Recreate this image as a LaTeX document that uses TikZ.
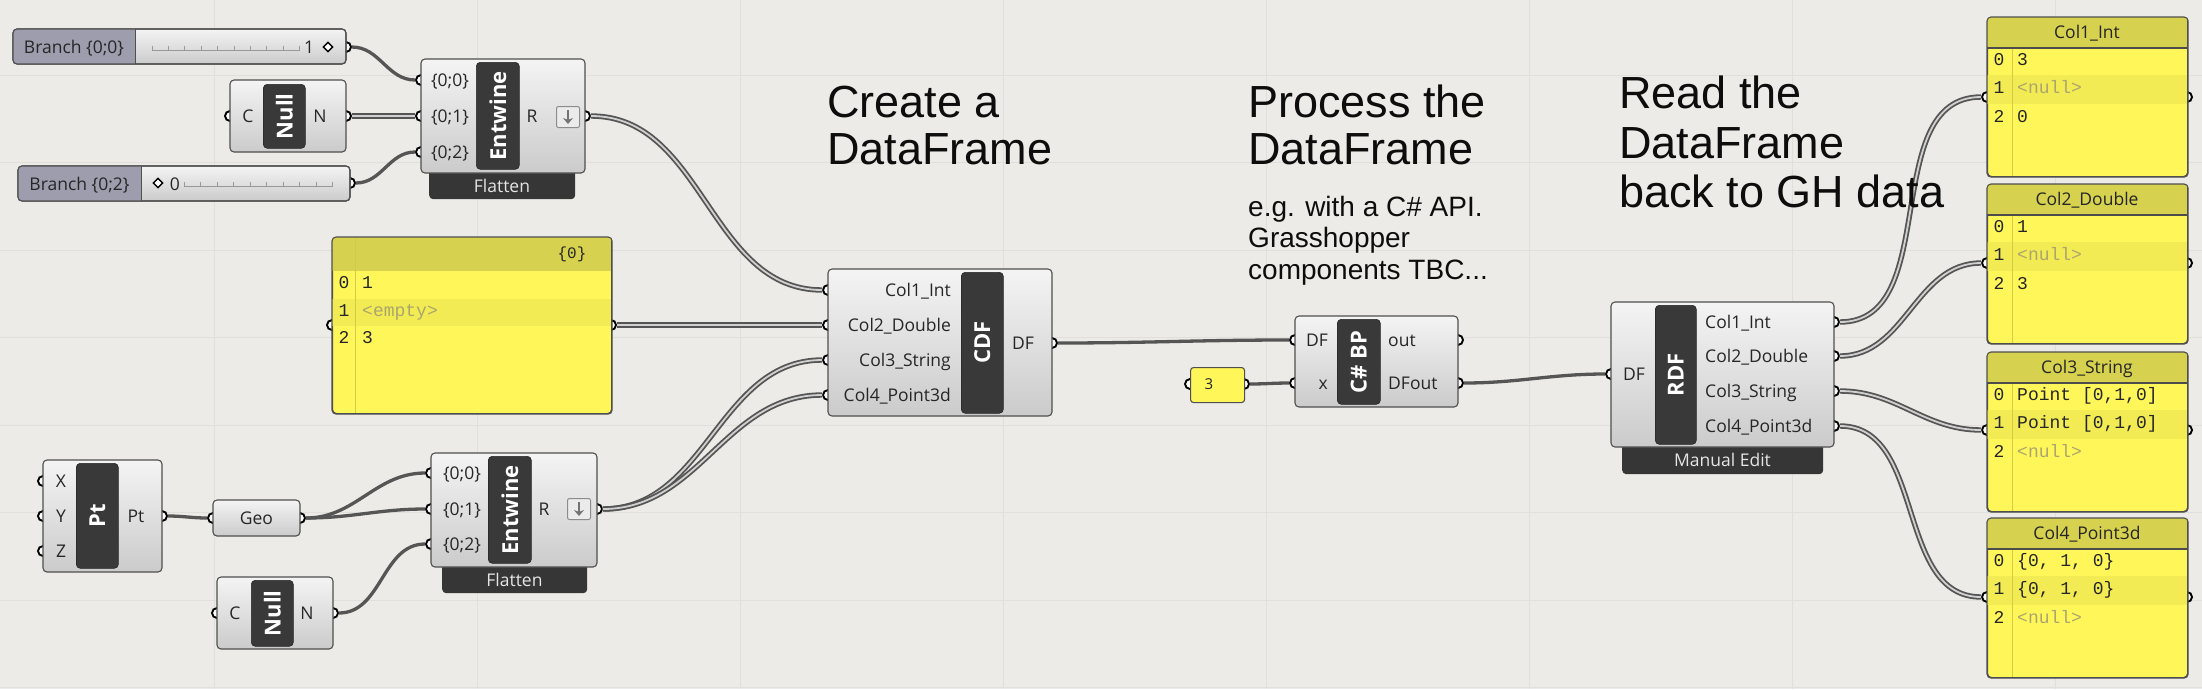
\documentclass[tikz,border=0pt]{standalone}
\usepackage{fontspec}
\setmainfont{Open Sans}
\newfontfamily\titlef{Liberation Sans}
\newfontfamily\monof{Liberation Mono}
\usetikzlibrary{arrows.meta,shapes.geometric}
\definecolor{bgc}{HTML}{ECEBE7}
\definecolor{gridc}{HTML}{E0DFDB}
\definecolor{bodytop}{HTML}{F4F4F4}
\definecolor{bodybot}{HTML}{CBCBCB}
\definecolor{edgec}{HTML}{4F4F4F}
\definecolor{platedark}{HTML}{393939}
\definecolor{platelight}{HTML}{858585}
\definecolor{bardark}{HTML}{363636}
\definecolor{slidelbl}{HTML}{9D9DAE}
\definecolor{pyellow}{HTML}{FFF75A}
\definecolor{phead}{HTML}{D6D14E}
\definecolor{pband}{HTML}{F2EB53}
\definecolor{pdiv}{HTML}{D2CB48}
\definecolor{nullc}{HTML}{ABA56E}
\definecolor{txtc}{HTML}{262626}
\definecolor{wired}{HTML}{555555}
\definecolor{wirel}{HTML}{D0D0D0}
\pgfdeclareverticalshading{plateshade}{100bp}{color(0bp)=(platedark); color(88bp)=(platedark); color(100bp)=(platelight)}
\newcommand\ghp[3]{\node[ghport] (#1) at (#2,#3) {};}
\newcommand\rpanel[6]{%
\node[ghpanel, minimum width=200pt, minimum height=159pt] (#1) at (1987,#2) {};
\begin{scope}
\clip[rounded corners=4pt] (#1.north west) rectangle (#1.south east);
\fill[phead] (1987,#2) rectangle (2187,#2+31);
\fill[pband] (1987,#2+58) rectangle (2187,#2+87);
\draw[pdiv, line width=1pt] (2012,#2+31) -- (2012,#2+159);
\end{scope}
\draw[black!70, line width=1.3pt] (1987,#2+31) -- (2187,#2+31);
\draw[draw=edgec, line width=1.1pt, rounded corners=4pt] (#1.north west) rectangle (#1.south east);
\node[ghlbl, anchor=base] (#1-h) at (2087,#2+21.7) {#3};
\node[ghmono, anchor=base] (#1-n0) at (1999,#2+48.5) {0};
\node[ghmono, anchor=base] (#1-n1) at (1999,#2+76.5) {1};
\node[ghmono, anchor=base] (#1-n2) at (1999,#2+105.5) {2};
\node[ghmono] (#1-v0) at (2017,#2+48.5) {#4};
\node[ghmono] (#1-v1) at (2017,#2+76.5) {#5};
\node[ghmono] (#1-v2) at (2017,#2+105.5) {#6};
}
\begin{document}
\begin{tikzpicture}[x=1pt,y=-1pt,
 ghbody/.style={draw=edgec, line width=1.1pt, rounded corners=4pt, top color=bodytop, bottom color=bodybot, anchor=north west, inner sep=0pt, outer sep=0pt},
 ghplate/.style={draw=black!85, line width=0.6pt, rounded corners=4pt, shade, shading=plateshade, anchor=north west, inner sep=0pt},
 ghbar/.style={fill=bardark, rounded corners=4pt, anchor=north west, inner sep=0pt},
 ghport/.style={circle, draw=black, fill=white, line width=1.9pt, minimum size=10pt, inner sep=0pt},
 ghlbl/.style={font=\fontsize{17.5}{20}\selectfont, text=txtc, inner sep=0pt},
 ghplt/.style={font=\fontsize{22}{24}\selectfont\bfseries, text=white, rotate=90, inner sep=0pt},
 ghbart/.style={font=\fontsize{17.5}{20}\selectfont, text=white!90!black, inner sep=0pt, anchor=base},
 ghwire/.style={draw=wired, line width=3.3pt},
 ghdwire/.style={draw=wired, double=wirel, double distance=1.8pt, line width=1.8pt},
 ghpanel/.style={draw=edgec, line width=1.1pt, rounded corners=4pt, fill=pyellow, anchor=north west, inner sep=0pt},
 ghmono/.style={font=\monof\fontsize{18}{20}\selectfont, text=txtc, inner sep=0pt, anchor=base west},
 ghtitle/.style={font=\titlef\fontsize{45}{48}\selectfont, text=black!95, inner sep=0pt, anchor=base west},
 ghsmall/.style={font=\titlef\fontsize{28}{32}\selectfont, text=black!95, inner sep=0pt, anchor=base west},
 ghbtn/.style={draw=black!45, fill=black!8, rounded corners=2pt, line width=1pt, minimum width=23pt, minimum height=21pt, anchor=north west, inner sep=0pt},
 ghdia/.style={diamond, draw=black, fill=white, line width=1.4pt, minimum size=10pt, inner sep=0pt},
 ghtick/.style={draw=black!40, line width=0.8pt},
 gharrow/.style={-{Stealth[length=6pt,width=10pt]}, black!55, line width=2.2pt}
]
\fill[bgc] (0,0) rectangle (2202,689);
\useasboundingbox (0,0) rectangle (2202,689);
\foreach \gx in {214,477,740,1003,1266,1529,1792,2055} \draw[gridc, line width=1pt] (\gx,0) -- (\gx,689);
\foreach \gy in {75,162.5,250,337.5,425,512.5,600,687.5} \draw[gridc, line width=1pt] (0,\gy) -- (2202,\gy);

% ---------- ports ----------
\ghp{sA-o}{346}{47}
\ghp{sB-o}{350}{183}
\ghp{nT-i}{230}{116}\ghp{nT-o}{346}{116}
\ghp{eT-i0}{421}{80}\ghp{eT-i1}{421}{116}\ghp{eT-i2}{421}{152}\ghp{eT-o}{585}{116}
\ghp{p0-i}{332}{325}\ghp{p0-o}{611}{325}
\ghp{pt-i0}{43}{481}\ghp{pt-i1}{43}{516}\ghp{pt-i2}{43}{551}\ghp{pt-o}{162}{516}
\ghp{geo-i}{213}{518}\ghp{geo-o}{300}{518}
\ghp{nB-i}{217}{613}\ghp{nB-o}{333}{613}
\ghp{eB-i0}{431}{473}\ghp{eB-i1}{431}{509}\ghp{eB-i2}{431}{544}\ghp{eB-o}{597}{509}
\ghp{cdf-i0}{828}{290}\ghp{cdf-i1}{828}{325}\ghp{cdf-i2}{828}{360}\ghp{cdf-i3}{828}{395}\ghp{cdf-o}{1052}{343}
\ghp{p3-i}{1190}{384}\ghp{p3-o}{1244}{384}
\ghp{cs-i0}{1295}{340}\ghp{cs-i1}{1295}{383}\ghp{cs-o0}{1458}{340}\ghp{cs-o1}{1458}{383}
\ghp{rdf-i}{1611}{374}
\ghp{rdf-o0}{1834}{322}\ghp{rdf-o1}{1834}{356}\ghp{rdf-o2}{1834}{391}\ghp{rdf-o3}{1834}{426}
\ghp{P1-i}{1987}{97}\ghp{P1-o}{2187}{97}
\ghp{P2-i}{1987}{263}\ghp{P2-o}{2187}{263}
\ghp{P3-i}{1987}{430}\ghp{P3-o}{2187}{430}
\ghp{P4-i}{1987}{597}\ghp{P4-o}{2187}{597}

% ---------- wires ----------
\draw[ghwire] (sA-o) to[out=0,in=180] (eT-i0);
\draw[ghdwire] (nT-o) to[out=0,in=180] (eT-i1);
\draw[ghwire] (sB-o) to[out=0,in=180] (eT-i2);
\draw[ghdwire] (eT-o) to[out=0,in=180] (cdf-i0);
\draw[ghdwire] (p0-o) to[out=0,in=180] (cdf-i1);
\draw[ghdwire] (eB-o) to[out=0,in=180] (cdf-i2);
\draw[ghdwire] (eB-o) to[out=0,in=180] (cdf-i3);
\draw[ghwire] (pt-o) to[out=0,in=180] (geo-i);
\draw[ghwire] (geo-o) to[out=0,in=180] (eB-i0);
\draw[ghwire] (geo-o) to[out=0,in=180] (eB-i1);
\draw[ghwire] (nB-o) to[out=0,in=180] (eB-i2);
\draw[ghwire] (cdf-o) to[out=0,in=180] (cs-i0);
\draw[ghwire] (p3-o) to[out=0,in=180] (cs-i1);
\draw[ghwire] (cs-o1) to[out=0,in=180] (rdf-i);
\draw[ghdwire] (rdf-o0) to[out=0,in=180] (P1-i);
\draw[ghdwire] (rdf-o1) to[out=0,in=180] (P2-i);
\draw[ghdwire] (rdf-o2) to[out=0,in=180] (P3-i);
\draw[ghdwire] (rdf-o3) to[out=0,in=180] (P4-i);

% ---------- slider A ----------
\node[ghbody, minimum width=333pt, minimum height=35pt] (sA) at (13,29) {};
\begin{scope}\clip[rounded corners=4pt] (sA.north west) rectangle (sA.south east);
\fill[slidelbl] (13,29) rectangle (135,64);\end{scope}
\draw[draw=edgec, line width=1.1pt, rounded corners=4pt] (sA.north west) rectangle (sA.south east);
\draw[draw=edgec, line width=1pt] (135,29) -- (135,64);
\node[ghlbl, anchor=base] (sA-t) at (74,53.2) {Branch \{0;0\}};
\draw[ghtick] (152,50) -- (300,50);
\foreach \k in {0,...,9} \draw[ghtick] (152+16.4*\k,50) -- ++(0,-4);
\node[ghlbl, anchor=base] (sA-v) at (309,53.2) {1};
\node[ghdia] (sA-d) at (328,47) {};

% ---------- slider B ----------
\node[ghbody, minimum width=332pt, minimum height=35pt] (sB) at (18,166) {};
\begin{scope}\clip[rounded corners=4pt] (sB.north west) rectangle (sB.south east);
\fill[slidelbl] (18,166) rectangle (141,201);\end{scope}
\draw[draw=edgec, line width=1.1pt, rounded corners=4pt] (sB.north west) rectangle (sB.south east);
\draw[draw=edgec, line width=1pt] (141,166) -- (141,201);
\node[ghlbl, anchor=base] (sB-t) at (79.5,190.2) {Branch \{0;2\}};
\node[ghdia] (sB-d) at (158,183) {};
\node[ghlbl, anchor=base] (sB-v) at (175,190.2) {0};
\draw[ghtick] (184,186) -- (333,186);
\foreach \k in {0,...,9} \draw[ghtick] (184+16.5*\k,186) -- ++(0,-4);

% ---------- Null top ----------
\node[ghbody, minimum width=116pt, minimum height=72pt] (nT) at (230,80) {};
\node[ghplate, minimum width=42pt, minimum height=64pt] (nTp) at (263,84) {};
\node[ghplt] (nTt) at (nTp.center) {Null};
\node[ghlbl, anchor=base] (nT-c) at (248,122.2) {C};
\node[ghlbl, anchor=base] (nT-n) at (320,122.2) {N};

% ---------- Entwine top ----------
\node[ghbar, minimum width=146pt, minimum height=40pt] (eTb) at (429,159) {};
\node[ghbart] (eTbt) at (502,192.2) {Flatten};
\node[ghbody, minimum width=164pt, minimum height=114pt] (eT) at (421,59) {};
\node[ghplate, minimum width=43pt, minimum height=107pt] (eTp) at (476,62) {};
\node[ghplt] (eTt) at (eTp.center) {Entwine};
\node[ghlbl, anchor=base] (eT-l0) at (450,86.2) {\{0;0\}};
\node[ghlbl, anchor=base] (eT-l1) at (450,122.2) {\{0;1\}};
\node[ghlbl, anchor=base] (eT-l2) at (450,158.2) {\{0;2\}};
\node[ghlbl, anchor=base] (eT-r) at (532,122.2) {R};
\node[ghbtn] (eTbtn) at (556,106) {};
\draw[gharrow] ([yshift=7pt]eTbtn.center) -- ([yshift=-7pt]eTbtn.center);

% ---------- panel {0} ----------
\node[ghpanel, minimum width=279pt, minimum height=176pt] (p0) at (332,237) {};
\begin{scope}\clip[rounded corners=4pt] (p0.north west) rectangle (p0.south east);
\fill[phead] (332,237) rectangle (611,271);
\fill[pband] (332,299) rectangle (611,326);
\draw[pdiv, line width=1pt] (355,237) -- (355,413);\end{scope}
\draw[draw=edgec, line width=1.1pt, rounded corners=4pt] (p0.north west) rectangle (p0.south east);
\node[ghmono, anchor=base, font=\monof\fontsize{16}{18}\selectfont] (p0-h) at (572,258) {\{0\}};
\node[ghmono, anchor=base] (p0-n0) at (344,288.5) {0};
\node[ghmono, anchor=base] (p0-n1) at (344,316.5) {1};
\node[ghmono, anchor=base] (p0-n2) at (344,343.5) {2};
\node[ghmono] (p0-v0) at (362,288.5) {1};
\node[ghmono, text=nullc] (p0-v1) at (362,316.5) {<empty>};
\node[ghmono] (p0-v2) at (362,343.5) {3};

% ---------- Pt ----------
\node[ghbody, minimum width=119pt, minimum height=112pt] (pt) at (43,460) {};
\node[ghplate, minimum width=42pt, minimum height=105pt] (ptp) at (76,463) {};
\node[ghplt] (ptt) at (ptp.center) {Pt};
\node[ghlbl, anchor=base] (pt-x) at (61,487.2) {X};
\node[ghlbl, anchor=base] (pt-y) at (61,522.2) {Y};
\node[ghlbl, anchor=base] (pt-z) at (61,557.2) {Z};
\node[ghlbl, anchor=base] (pt-pt) at (136,522.2) {Pt};

% ---------- Geo ----------
\node[ghbody, minimum width=87pt, minimum height=36pt] (geo) at (213,500) {};
\node[ghlbl, anchor=base] (geo-t) at (256.5,524.2) {Geo};

% ---------- Null bottom ----------
\node[ghbody, minimum width=116pt, minimum height=72pt] (nB) at (217,577) {};
\node[ghplate, minimum width=42pt, minimum height=66pt] (nBp) at (251,580) {};
\node[ghplt] (nBt) at (nBp.center) {Null};
\node[ghlbl, anchor=base] (nB-c) at (235,619.2) {C};
\node[ghlbl, anchor=base] (nB-n) at (307,619.2) {N};

% ---------- Entwine bottom ----------
\node[ghbar, minimum width=145pt, minimum height=40pt] (eBb) at (442,553) {};
\node[ghbart] (eBbt) at (514.5,586.2) {Flatten};
\node[ghbody, minimum width=166pt, minimum height=114pt] (eB) at (431,453) {};
\node[ghplate, minimum width=43pt, minimum height=107pt] (eBp) at (488,456) {};
\node[ghplt] (eBt) at (eBp.center) {Entwine};
\node[ghlbl, anchor=base] (eB-l0) at (462,479.2) {\{0;0\}};
\node[ghlbl, anchor=base] (eB-l1) at (462,515.2) {\{0;1\}};
\node[ghlbl, anchor=base] (eB-l2) at (462,550.2) {\{0;2\}};
\node[ghlbl, anchor=base] (eB-r) at (544,515.2) {R};
\node[ghbtn] (eBbtn) at (567,498) {};
\draw[gharrow] ([yshift=7pt]eBbtn.center) -- ([yshift=-7pt]eBbtn.center);

% ---------- CDF ----------
\node[ghbody, minimum width=224pt, minimum height=147pt] (cdf) at (828,269) {};
\node[ghplate, minimum width=42pt, minimum height=141pt] (cdfp) at (961,272) {};
\node[ghplt] (cdft) at (cdfp.center) {CDF};
\node[ghlbl, anchor=base east] (cdf-l0) at (951,296.2) {Col1\_Int};
\node[ghlbl, anchor=base east] (cdf-l1) at (951,331.2) {Col2\_Double};
\node[ghlbl, anchor=base east] (cdf-l2) at (951,366.2) {Col3\_String};
\node[ghlbl, anchor=base east] (cdf-l3) at (951,401.2) {Col4\_Point3d};
\node[ghlbl, anchor=base] (cdf-df) at (1023,349.2) {DF};

% ---------- titles ----------
\node[ghtitle] (t1a) at (827,117) {Create a};
\node[ghtitle] (t1b) at (827,164) {DataFrame};
\node[ghtitle] (t2a) at (1248,117) {Process the};
\node[ghtitle] (t2b) at (1248,164) {DataFrame};
\node[ghsmall] (t2c) at (1248,216) {e.g. with a C\# API.};
\node[ghsmall] (t2d) at (1248,247) {Grasshopper};
\node[ghsmall] (t2e) at (1248,279) {components TBC...};
\node[ghtitle] (t3a) at (1619,108) {Read the};
\node[ghtitle] (t3b) at (1619,158) {DataFrame};
\node[ghtitle] (t3c) at (1619,207) {back to GH data};

% ---------- panel 3 ----------
\node[ghpanel, minimum width=54pt, minimum height=35pt, rounded corners=3pt] (p3) at (1190,367) {};
\node[ghlbl, anchor=base, font=\fontsize{15}{17}\selectfont] (p3-t) at (1209,389.5) {3};

% ---------- C# BP ----------
\node[ghbody, minimum width=163pt, minimum height=91pt] (cs) at (1295,316) {};
\node[ghplate, minimum width=43pt, minimum height=85pt] (csp) at (1337,319) {};
\node[ghplt] (cst) at (csp.center) {C\# BP};
\node[ghlbl, anchor=base east] (cs-l0) at (1328,346.2) {DF};
\node[ghlbl, anchor=base east] (cs-l1) at (1328,389.2) {x};
\node[ghlbl, anchor=base west] (cs-r0) at (1388,346.2) {out};
\node[ghlbl, anchor=base west] (cs-r1) at (1388,389.2) {DFout};

% ---------- RDF ----------
\node[ghbar, minimum width=201pt, minimum height=40pt] (rdfb) at (1622,434) {};
\node[ghbart] (rdfbt) at (1722.5,466.7) {Manual Edit};
\node[ghbody, minimum width=223pt, minimum height=145pt] (rdf) at (1611,302) {};
\node[ghplate, minimum width=41pt, minimum height=139pt] (rdfp) at (1655,305) {};
\node[ghplt] (rdft) at (rdfp.center) {RDF};
\node[ghlbl, anchor=base west] (rdf-l) at (1623,380.2) {DF};
\node[ghlbl, anchor=base west] (rdf-r0) at (1705,328.2) {Col1\_Int};
\node[ghlbl, anchor=base west] (rdf-r1) at (1705,362.2) {Col2\_Double};
\node[ghlbl, anchor=base west] (rdf-r2) at (1705,397.2) {Col3\_String};
\node[ghlbl, anchor=base west] (rdf-r3) at (1705,432.2) {Col4\_Point3d};

% ---------- output panels ----------
\rpanel{P1}{17}{Col1\_Int}{3}{\color{nullc}<null>}{0}
\rpanel{P2}{184}{Col2\_Double}{1}{\color{nullc}<null>}{3}
\rpanel{P3}{352}{Col3\_String}{Point [0,1,0]}{Point [0,1,0]}{\color{nullc}<null>}
\rpanel{P4}{518}{Col4\_Point3d}{\{0, 1, 0\}}{\{0, 1, 0\}}{\color{nullc}<null>}
\end{tikzpicture}
\end{document}
